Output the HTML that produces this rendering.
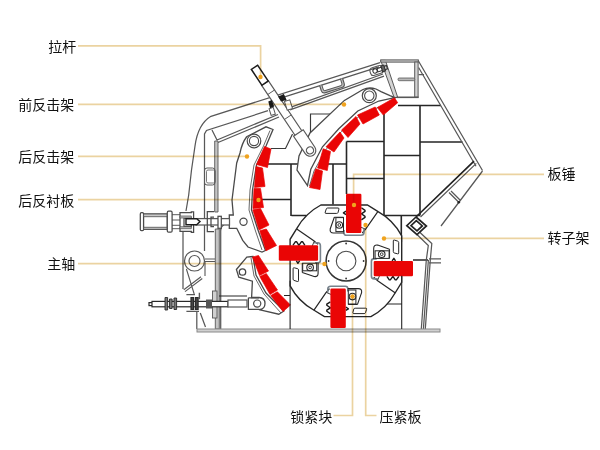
<!DOCTYPE html>
<html><head><meta charset="utf-8"><title>diagram</title>
<style>html,body{margin:0;padding:0;background:#fff;font-family:"Liberation Sans",sans-serif}svg{display:block}</style></head>
<body><svg width="600" height="450" viewBox="0 0 600 450">
<rect width="600" height="450" fill="#fff"/>
<path d="M291,164V216M333,164V204.5M346.5,141.5V194M384,114V216M420,105.5V215.5M401.3,215.5V242M398,105.5H441M346.5,141.5H384M420,142H462.5M384,155.5H420M268,164H300M328,164H346.5M346.5,178.5H384M262,199.5H291.5M291.5,215.5H306M384,215.5H420M413,260H428" fill="none" stroke="#262626" stroke-width="1.6"/>
<path d="M271,148.5H285.5L292.5,134M310.5,133V114H331" fill="none" stroke="#3a3a3a" stroke-width="1.15"/>
<path d="M183,289V232M186,211L188.7,195L191.5,170L195,146Q198,124 211,116.3L380,62.6M204.5,251V134L206.5,130.4L268,110.7M283,97.4L379,66.9M212,130L217,140L278,114.5M218,142.5L279,117M220.7,227V329M224,225Q221,226 220.7,231M289,107.8L383,74M290,109.9L384,76.2M283,93.4L289,108.5M418,60.3L482.5,170.5M418.6,67.5L476,166.2M418.5,74.7H424M476.3,163.4L420.5,217M482.5,171L441,226M449,192.5L458.5,202M451,191L460.5,200.5M417,234.5L428.3,245.5L426.3,260L421.3,329 M419.5,232L431.8,243.5L430.3,260L425.3,329 M428.4,260L423.4,329 M429,258.8H441M429,262.8H441M196.8,312V329M200.3,313L205.5,327" fill="none" stroke="#585858" stroke-width="1.25"/>
<path d="M214.7,141H218V212H214.7ZM215.3,229H219.3V329H215.3Z" fill="#c4c4c4" stroke="#585858" stroke-width="0.9"/>
<path d="M474,161.2L416,217L406.8,225.7L417,234.6L426.4,226L416,217M411,225.7L417,230.8L422.3,225.9L416.3,220.6Z" fill="none" stroke="#222" stroke-width="1.7" stroke-linejoin="miter"/>
<circle cx="458.8" cy="202.3" r="1.3" fill="#222"/>
<g stroke="#585858" stroke-width="1"><path d="M380.7,60.4L385.4,60.4L397.6,97L394.4,98.3Z" fill="#d4d4d4"/><rect x="380.7" y="59.9" width="37.6" height="2.2" fill="#d0d0d0"/><rect x="414.7" y="62" width="3.4" height="35.3" fill="#d4d4d4"/><path d="M396.5,97.3H418.6" fill="none" stroke-width="1.6"/><rect x="398" y="78" width="16.7" height="2.7" rx="1.2" fill="#b8b8b8" stroke-width="0.8"/></g>
<rect x="197" y="329" width="243" height="3" fill="#d0d0d0" stroke="#8a8a8a" stroke-width="1"/>
<g transform="translate(332.4,86.0) rotate(-17.6)" fill="none" stroke="#585858"><path d="M-10.9,-4.3V0.8Q-10.9,3.25 -8.2,3.25H8.2Q10.9,3.25 10.9,0.8V-4.3" stroke="#c4c4c4" stroke-width="2"/><path d="M-12,-4.3V1Q-12,4.3 -8.5,4.3H8.5Q12,4.3 12,1V-4.3" stroke-width="1.2"/><path d="M-9.8,-4.3V0.5Q-9.8,2.2 -8,2.2H8Q9.8,2.2 9.8,0.5V-4.3" stroke-width="1"/></g>
<rect x="204.5" y="168" width="10.5" height="17" rx="2.5" fill="none" stroke="#585858"/><rect x="206.5" y="170" width="8.5" height="13" rx="1.5" fill="none" stroke="#585858" stroke-width="0.8"/>
<g transform="translate(376.5,70.5) rotate(-17.6)" fill="none" stroke="#585858" stroke-width="1.1"><rect x="-6.5" y="-4" width="13" height="8" rx="3.2"/><circle cx="-1.5" cy="0" r="2.2" stroke="#333"/><rect x="1" y="-1.7" width="10" height="3.4" stroke="#333"/><rect x="5.5" y="-3" width="3" height="6" fill="#666" stroke="#333"/></g>
<path d="M320.9,205.0L367.4,205.0L378.1,211.6A60.0,60.0 0 0 1 401.7,235.8L401.7,282.3L395.1,293.0A60.0,60.0 0 0 1 370.9,316.6L324.4,316.6L313.7,310.0A60.0,60.0 0 0 1 290.1,285.8L290.1,239.3L296.7,228.6A60.0,60.0 0 0 1 320.9,205.0Z" fill="#fff" stroke="#262626" stroke-width="1.4"/>
<g id="q">
<path d="M378,211.3L366,228.7L362.3,233" fill="none" stroke="#262626" stroke-width="1.2"/>
<path d="M344,230V233Q344,235.3 346.5,235.3H361Q364,235.3 364,232.5V229" fill="none" stroke="#77828c" stroke-width="1.6"/>
<path d="M361.4,207.8l3.6,2.6v1l-3.6,2.4l3.6,2.6v1l-3.6,2.4M346,211.2l-2.6,1.6l2.6,1.8" fill="none" stroke="#1a1a1a" stroke-width="1.4" stroke-linejoin="round"/><path d="M365.3,229.1L360,226.8" fill="none" stroke="#262626" stroke-width="0.9"/>
<path d="M334.3,217.2H343.6M334.3,217.2L330.2,229Q329.6,233 333.5,233H344" fill="none" stroke="#262626" stroke-width="1.1"/>
<rect x="335.9" y="217.6" width="7.6" height="14" fill="#fff" stroke="#262626" stroke-width="1"/>
<circle cx="339.3" cy="225" r="3.3" fill="#fff" stroke="#262626" stroke-width="1.1"/><circle cx="339.3" cy="225" r="1.4" fill="none" stroke="#262626" stroke-width="0.9"/>
<path d="M327.6,208H338Q339.2,208 338.9,209.2L338,212.6Q337.7,213.4 336.7,213.4H326Q324.8,213.4 325.2,212.2L326.3,208.9Q326.6,208 327.6,208Z" fill="#fff" stroke="#262626" stroke-width="1"/>
<rect x="346" y="193.7" width="15.4" height="39.3" rx="1.2" fill="#ea0505"/>
</g>
<use href="#q" transform="rotate(90 345.9 260.8)"/>
<use href="#q" transform="rotate(180 345.9 260.8)"/>
<use href="#q" transform="rotate(270 345.9 260.8)"/>
<circle cx="346.09999999999997" cy="261.0" r="20" fill="#fff" stroke="#333" stroke-width="1.5"/><circle cx="346.09999999999997" cy="261.0" r="9.8" fill="#fff" stroke="#4a4a4a" stroke-width="1.1"/>
<g fill="#333"><circle cx="346.09999999999997" cy="243.5" r="0.9"/><circle cx="346.09999999999997" cy="278.5" r="0.9"/><circle cx="328.59999999999997" cy="261.0" r="0.9"/><circle cx="363.59999999999997" cy="261.0" r="0.9"/></g>
<path d="M247,136.5L266,126.8L273,129.5L266,146L256.5,165L252.5,190L251.5,210L258,230L265.5,250.5L262,252L248,247L242.7,240.3L236.7,228.3H229.3V215H233.3L232,200L236.7,163L240,153Q242,143 246.5,137Z" fill="#fff" stroke="#4a4a4a" stroke-width="1.3"/>
<path d="M270,130.5L263.5,146L254,165L250,190L249,210L255.5,231L262,250" fill="none" stroke="#585858" stroke-width="0.9"/>
<circle cx="254" cy="141" r="6.8" fill="#fff" stroke="#4a4a4a" stroke-width="1.2"/><circle cx="254" cy="141" r="4.6" fill="#fff" stroke="#4a4a4a" stroke-width="1.1"/>
<circle cx="243.5" cy="221.7" r="3.6" fill="#fff" stroke="#4a4a4a" stroke-width="1.2"/>
<polygon points="264.5,146.5 271,149 267.5,167.5 256.5,164.5" fill="#ea0505" stroke="#ea0505" stroke-width="0.7" stroke-linejoin="round"/>
<polygon points="256,166.5 262.5,168 265,186.5 254.5,187.5" fill="#ea0505" stroke="#ea0505" stroke-width="0.7" stroke-linejoin="round"/>
<polygon points="254,188.5 260.5,188.5 263.5,207.5 253,208.5" fill="#ea0505" stroke="#ea0505" stroke-width="0.7" stroke-linejoin="round"/>
<polygon points="252.8,209.8 260.5,208.5 269,225 259,230" fill="#ea0505" stroke="#ea0505" stroke-width="0.7" stroke-linejoin="round"/>
<polygon points="259.8,230.8 266.3,229 276.5,245.5 266,250.8" fill="#ea0505" stroke="#ea0505" stroke-width="0.7" stroke-linejoin="round"/>
<path d="M253,256.5L246.8,257.2L236.4,269.5L238.8,277.2L252.4,281.2L251.6,297.5H259Q265,297.8 265,303.5Q265,309.3 259,309.6L278.8,314.2L284,311L266,293L256,275Z" fill="#fff" stroke="#4a4a4a" stroke-width="1.3"/>
<path d="M251,258L254,276L264,294L281,313" fill="none" stroke="#585858" stroke-width="0.9"/>
<circle cx="242.5" cy="272" r="3.2" fill="#fff" stroke="#444" stroke-width="1.3"/>
<path d="M248.4,297.8H259M248.4,297.8V309.4H259" fill="none" stroke="#4a4a4a" stroke-width="1.2"/><circle cx="257.2" cy="303.6" r="3.6" fill="#fff" stroke="#4a4a4a" stroke-width="1.2"/>
<polygon points="252.5,257 258.5,255.5 268.5,271 259.5,275.5" fill="#ea0505" stroke="#ea0505" stroke-width="0.7" stroke-linejoin="round"/>
<polygon points="259.8,276.5 266.3,273.5 277.5,290 270,294.5" fill="#ea0505" stroke="#ea0505" stroke-width="0.7" stroke-linejoin="round"/>
<polygon points="270.8,295.5 277.3,291.8 290.5,305 283,311.5" fill="#ea0505" stroke="#ea0505" stroke-width="0.7" stroke-linejoin="round"/>
<path d="M219,296H247M290.1,280.8V329M290.1,295.5H284M401.7,275.8V329M401.7,304H387" fill="none" stroke="#262626" stroke-width="1.1"/>
<path d="M363,89.5L344.4,100.4L310,133L299,156L297,170L307.5,185.5L310.8,169.3L322.5,146.8L338.8,128.8L357.8,111L378.8,101L394.8,97.6L390,95.6L381,91.6L376,89Q369,86.8 363,89.5Z" fill="#fff" stroke="#4a4a4a" stroke-width="1.3"/>
<path d="M309.5,186L314,171L326,149.5L341.5,131.5L359,116.5L379,107" fill="none" stroke="#585858" stroke-width="0.9"/>
<circle cx="369.3" cy="95.7" r="7" fill="#fff" stroke="#4a4a4a" stroke-width="1.2"/><circle cx="369.3" cy="95.7" r="4.7" fill="#fff" stroke="#4a4a4a" stroke-width="1.1"/>
<polygon points="377.3,107.5 394.5,97.8 397.7,102.7 383.3,115" fill="#ea0505" stroke="#ea0505" stroke-width="0.7" stroke-linejoin="round"/>
<polygon points="357.5,115 375.2,107 379.3,115 363,124" fill="#ea0505" stroke="#ea0505" stroke-width="0.7" stroke-linejoin="round"/>
<polygon points="341.5,130 356,116.5 360,124 348,137.5" fill="#ea0505" stroke="#ea0505" stroke-width="0.7" stroke-linejoin="round"/>
<polygon points="326,146.8 340,132 344,138 334,152" fill="#ea0505" stroke="#ea0505" stroke-width="0.7" stroke-linejoin="round"/>
<polygon points="323.2,148.8 330.5,151.5 327.3,170.5 317.5,168" fill="#ea0505" stroke="#ea0505" stroke-width="0.7" stroke-linejoin="round"/>
<polygon points="315.8,168.8 322.5,171 320,189.5 309.5,187.5" fill="#ea0505" stroke="#ea0505" stroke-width="0.7" stroke-linejoin="round"/>
<g transform="translate(254.5,67.3) rotate(56.26)" stroke="#585858" stroke-width="1.2" fill="#fff">
<rect x="19" y="-4.1" width="63" height="8.2"/>
<rect x="0" y="-3.8" width="19" height="7.6" stroke="#1c1c1c" stroke-width="1.5"/>
<path d="M30,-4.1V4.1M60,-4.1V4.1" fill="none" stroke-width="0.9"/>
<path d="M79,-5.8H100A5.8,5.8 0 0 1 100,5.8H79Z"/>
<circle cx="99.9" cy="0" r="3.6"/>
</g>
<g fill="#fff" stroke="#585858" stroke-width="1"><rect x="-2.2" y="-3.5" width="4.4" height="7" transform="translate(272.2,111.4) rotate(-17.6)"/><rect x="-2.8" y="-4.6" width="5.6" height="9.2" transform="translate(288.5,105) rotate(-17.6)"/></g>
<path d="M268.3,101.6L271.8,100L274.2,106.6L270,108.2ZM278,96.6L283.8,94.3L286.6,100L281,101.4Z" fill="#1a1a1a"/>
<g fill="#fff" stroke="#4a4a4a" stroke-width="1.25">
<rect x="196" y="218.6" width="33.5" height="6.4" stroke="#585858"/>
<rect x="140.3" y="212.7" width="3.3" height="18" rx="1.2"/>
<rect x="143.6" y="214" width="23.7" height="15.3"/>
<path d="M143.6,214H167.3V216.7H143.6ZM143.6,227.3H167.3V229.3H143.6Z" fill="#c9c9c9" stroke-width="0.8"/>
<rect x="167.3" y="211.2" width="4.8" height="21" rx="1.2"/>
<path d="M172,214.7H180M172,220H180M172,225.3H180M172,228.7H180" fill="none" stroke-width="0.9"/>
<path d="M180,212.7H191.3V211.8H193.6V220H191.3V218H184V226.7H191.3V224H193.6V232.3H191.3V231.3H180Z"/>
<path d="M180,216H191.3V218H180ZM180,226.7H191.3V228.7H180Z" fill="#c4c4c4" stroke-width="0.7"/>
<path d="M186,218.7H196.7L200,221.6L196.7,224.7H186Z" stroke="#1c1c1c" stroke-width="1.4"/>
<path d="M214,211.7H207.3V231.7H214M214,217H211V226.5H214" fill="none"/>
<rect x="218" y="216.3" width="3.3" height="12"/>
</g>
<path d="M186.4,269L194.2,294M205,261V276M205,259H215M205,261.5H215M183.8,289.7L201,276.7M185,291.6L202.3,278.5" fill="none" stroke="#585858" stroke-width="1.1"/>
<circle cx="194.5" cy="261" r="10" fill="#fff" stroke="#585858" stroke-width="1.2"/><circle cx="194.5" cy="261" r="5.5" fill="#fff" stroke="#585858" stroke-width="1.2"/>
<g fill="#fff" stroke="#2a2a2a" stroke-width="1.2">
<rect x="212.5" y="291" width="4.5" height="27" fill="#d0d0d0" stroke="#585858" stroke-width="0.9"/>
<rect x="149" y="302.6" width="4" height="3"/>
<rect x="152" y="301.4" width="76" height="5.4"/>
<rect x="228" y="300" width="19" height="7" stroke="#585858"/>
<path d="M165,297.5h2.6v12.5h-2.6zM169.5,299h2.6v9.5h-2.6zM174,298h2.6v11.5h-2.6z" fill="#777" stroke-width="0.9"/>
<path d="M186.4,294.6H195M199.4,292.8V299.3M186.4,311.4H199" fill="none" stroke="#585858" stroke-width="1.4"/>
<path d="M191,297.5h2.6v12h-2.6zM195.5,297.5h2.6v12h-2.6z" fill="#444"/>
<path d="M206,299.5h6v9h-6z" fill="#555" stroke="none"/>
</g>
<g fill="none" stroke="#ebd3a1" stroke-width="1.7" style="mix-blend-mode:multiply">
<path d="M78,45.8H260.6V77"/><path d="M78,104.3H344"/><path d="M78,156.3H247"/><path d="M78,199.6H258.5"/><path d="M78,263.6H324"/>
<path d="M544,174.3H353.6V205"/><path d="M544,238.3H384"/>
<path d="M333.5,415.5H352.5V296.5"/><path d="M376.5,415.5H365.7V225"/>
</g>
<circle cx="260.5" cy="77" r="2.2" fill="#f0a31e"/><circle cx="344" cy="104.5" r="2.2" fill="#f0a31e"/><circle cx="247" cy="156.5" r="2.2" fill="#f0a31e"/><circle cx="258.5" cy="200" r="2.2" fill="#f0a31e"/><circle cx="324.5" cy="264" r="2.2" fill="#f0a31e"/><circle cx="354" cy="205" r="2.2" fill="#f0a31e"/><circle cx="384" cy="238.5" r="2.2" fill="#f0a31e"/><circle cx="352.5" cy="296.5" r="2.2" fill="#f0a31e"/><circle cx="365.5" cy="225" r="2.2" fill="#f0a31e"/>
<g font-family="'Liberation Sans', 'Noto Sans CJK SC', sans-serif" fill="#111"><text x="48.3" y="51.5" font-size="14">拉杆</text><text x="18.3" y="109.5" font-size="14">前反击架</text><text x="18.3" y="161.5" font-size="14">后反击架</text><text x="18.3" y="205.5" font-size="14">后反衬板</text><text x="47.3" y="269" font-size="14">主轴</text><text x="547.5" y="179" font-size="14">板锤</text><text x="547.5" y="243.2" font-size="14">转子架</text><text x="290.3" y="421.5" font-size="14">锁紧块</text><text x="379.5" y="421.5" font-size="14">压紧板</text></g>
</svg></body></html>
